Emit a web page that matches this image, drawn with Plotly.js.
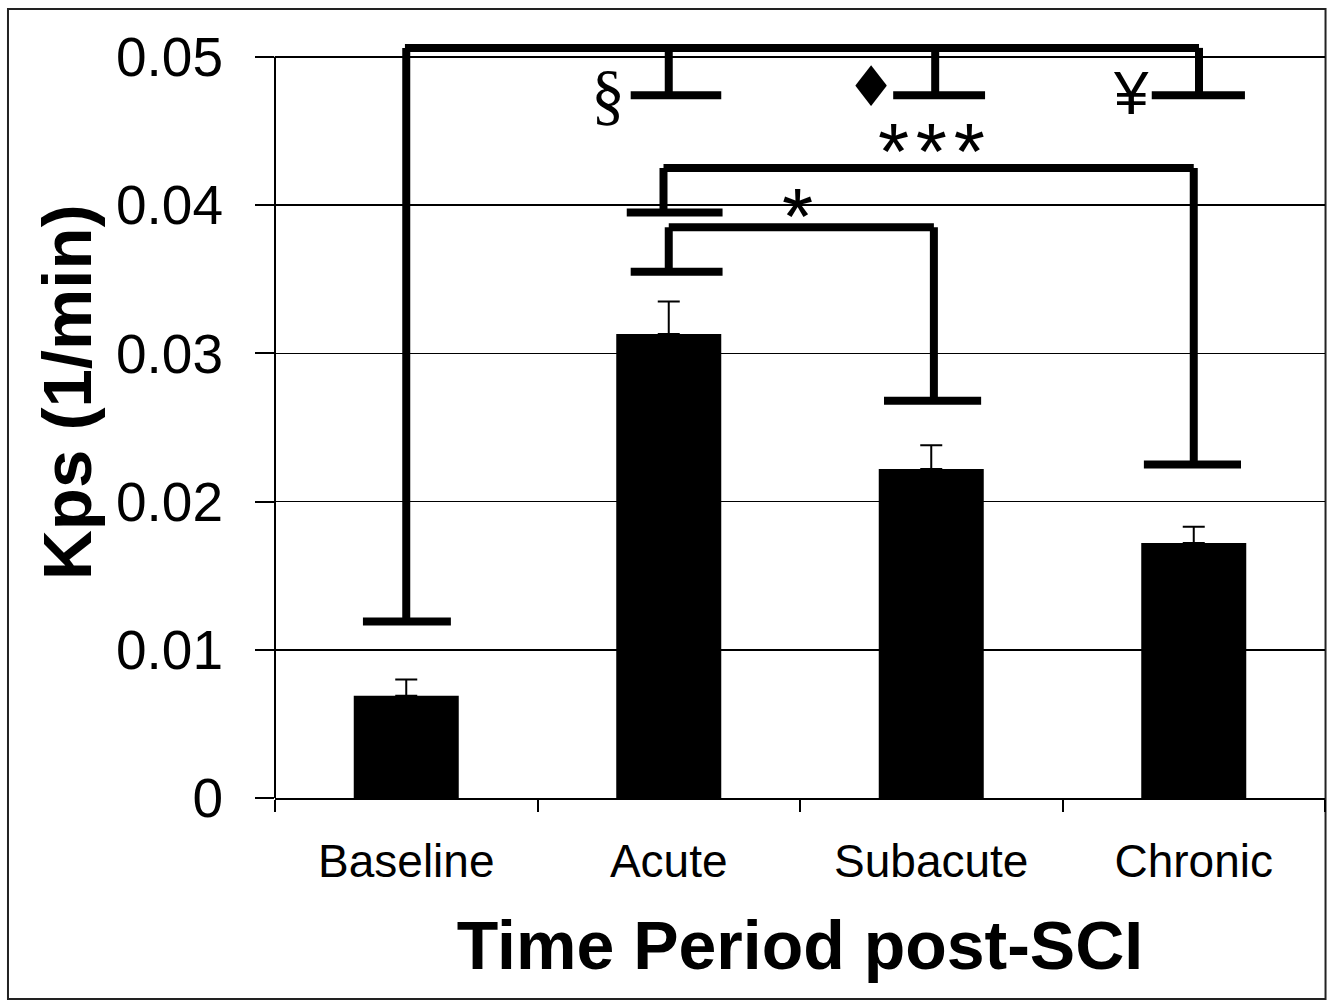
<!DOCTYPE html>
<html>
<head>
<meta charset="utf-8">
<script src="https://cdn.plot.ly/plotly-3.0.1.min.js"></script>
<style>
  html, body { margin: 0; padding: 0; background: #ffffff; }
  #chart { width: 1334px; height: 1001px; }
</style>
</head>
<body>
<div id="chart"></div>
<script>
// ---- data ----
const categories = ['Baseline', 'Acute', 'Subacute', 'Chronic'];
const kps = [0.0069, 0.0313, 0.0222, 0.0172];
const sem = [0.0011, 0.0022, 0.0016, 0.0011];
const yTickVals = [0, 0.01, 0.02, 0.03, 0.04, 0.05];
const yTickText = ['0', '0.01', '0.02', '0.03', '0.04', '0.05'];
const xTitle = 'Time Period post-SCI';
const yTitle = 'Kps (1/min)';

// significance brackets: [x0, y0, x1, y1] in category-index / data units
const bracketBaseline = [
  [0, 0.0119, 0, 0.0506],
  [-0.005, 0.0506, 3.02, 0.0506],
  [-0.165, 0.0119, 0.17, 0.0119],
  [1.0, 0.0506, 1.0, 0.0474],
  [2.015, 0.0506, 2.015, 0.0474],
  [3.02, 0.0506, 3.02, 0.0474],
  [0.855, 0.0474, 1.2, 0.0474],
  [1.855, 0.0474, 2.205, 0.0474],
  [2.84, 0.0474, 3.195, 0.0474]
];
const bracketAcuteChronic = [
  [0.98, 0.0425, 3.0, 0.0425],
  [0.98, 0.0425, 0.98, 0.0395],
  [0.84, 0.0395, 1.205, 0.0395],
  [3.0, 0.0425, 3.0, 0.0225],
  [2.81, 0.0225, 3.18, 0.0225]
];
const bracketAcuteSubacute = [
  [1.0, 0.0385, 2.01, 0.0385],
  [1.0, 0.0385, 1.0, 0.0355],
  [0.855, 0.0355, 1.205, 0.0355],
  [2.01, 0.0385, 2.01, 0.0268],
  [1.82, 0.0268, 2.19, 0.0268]
];
// significance labels: text, x (category index), y (data)
const sigLabels = [
  {text: '§', x: 0.77, y: 0.0475, font: 'Liberation Serif', size: 68},
  {text: '♦', x: 1.771, y: 0.0480, font: 'DejaVu Sans', size: 56},
  {text: '¥', x: 2.762, y: 0.0476, font: 'Liberation Sans', size: 62},
  {text: '*\u200a*\u200a*', x: 2.0, y: 0.0436, font: 'Liberation Sans', size: 80},
  {text: '*', x: 1.49, y: 0.0392, font: 'Liberation Sans', size: 80}
];

// ---- build shapes ----
const shapes = [];
function addLines(list, width) {
  list.forEach(function (s) {
    shapes.push({
      type: 'line', xref: 'x', yref: 'y',
      x0: s[0], y0: s[1], x1: s[2], y1: s[3],
      line: {color: '#000000', width: width},
      layer: 'above'
    });
  });
}
addLines(bracketBaseline, 8);
addLines(bracketAcuteChronic, 8);
addLines(bracketAcuteSubacute, 8);

// y axis line (only up to the top tick)
shapes.push({
  type: 'line', xref: 'paper', yref: 'y',
  x0: 0, x1: 0, y0: 0, y1: yTickVals[yTickVals.length - 1],
  line: {color: '#000000', width: 2}, layer: 'above'
});
// outer frame of the figure
shapes.push({
  type: 'rect', xref: 'paper', yref: 'paper',
  x0: -0.2543, x1: 1.0005, y0: -0.2648, y1: 1.0395,
  line: {color: '#222222', width: 2}, fillcolor: 'rgba(0,0,0,0)', layer: 'below'
});

const annotations = sigLabels.map(function (a) {
  return {
    text: a.text, x: a.x, y: a.y, xref: 'x', yref: 'y',
    showarrow: false, xanchor: 'center', yanchor: 'middle',
    font: {family: a.font, size: a.size, color: '#000000'}
  };
});
// y-axis title as rotated annotation
annotations.push({
  text: '<b>' + yTitle + '</b>', xref: 'paper', yref: 'paper',
  x: -0.197, y: 0.535, xanchor: 'center', yanchor: 'middle',
  textangle: -90, showarrow: false,
  font: {family: 'Liberation Sans, Arial, sans-serif', size: 69, color: '#000000'}
});

const trace = {
  type: 'bar',
  x: categories,
  y: kps,
  width: 0.4,
  marker: {color: '#000000', line: {width: 0}},
  error_y: {
    type: 'data', array: sem, arrayminus: sem.map(function () { return 0; }),
    symmetric: false, visible: true, color: '#000000', thickness: 2, width: 11
  },
  hoverinfo: 'none'
};

const layout = {
  width: 1334, height: 1001,
  margin: {l: 275, r: 9, t: 39, b: 203, pad: 0},
  paper_bgcolor: '#ffffff', plot_bgcolor: '#ffffff',
  showlegend: false,
  font: {family: 'Liberation Sans, Arial, sans-serif', color: '#000000'},
  bargap: 0.6,
  xaxis: {
    type: 'category',
    range: [-0.5, 3.5],
    showline: true, linecolor: '#000000', linewidth: 2,
    ticks: 'outside', tickson: 'boundaries', ticklen: 12, tickwidth: 2, tickcolor: '#000000',
    showgrid: false, zeroline: false,
    tickfont: {family: 'Liberation Sans, Arial, sans-serif', size: 46, color: '#000000'},
    ticklabelstandoff: 22,
    title: {
      text: xTitle,
      font: {family: 'Liberation Sans, Arial, sans-serif', size: 68, color: '#000000', weight: 'bold'},
      standoff: 35
    },
    automargin: false,
    fixedrange: true
  },
  yaxis: {
    range: [0, 0.0512],
    tickvals: yTickVals, ticktext: yTickText,
    showline: false,
    ticks: 'outside', ticklen: 19, tickwidth: 2, tickcolor: '#000000',
    showgrid: true, gridcolor: '#000000', gridwidth: 1.5,
    zeroline: false,
    tickfont: {family: 'Liberation Sans, Arial, sans-serif', size: 55, color: '#000000'},
    ticklabelstandoff: 21,
    automargin: false,
    fixedrange: true
  },
  shapes: shapes,
  annotations: annotations
};

Plotly.newPlot('chart', [trace], layout, {displayModeBar: false, staticPlot: true});
</script>
</body>
</html>
